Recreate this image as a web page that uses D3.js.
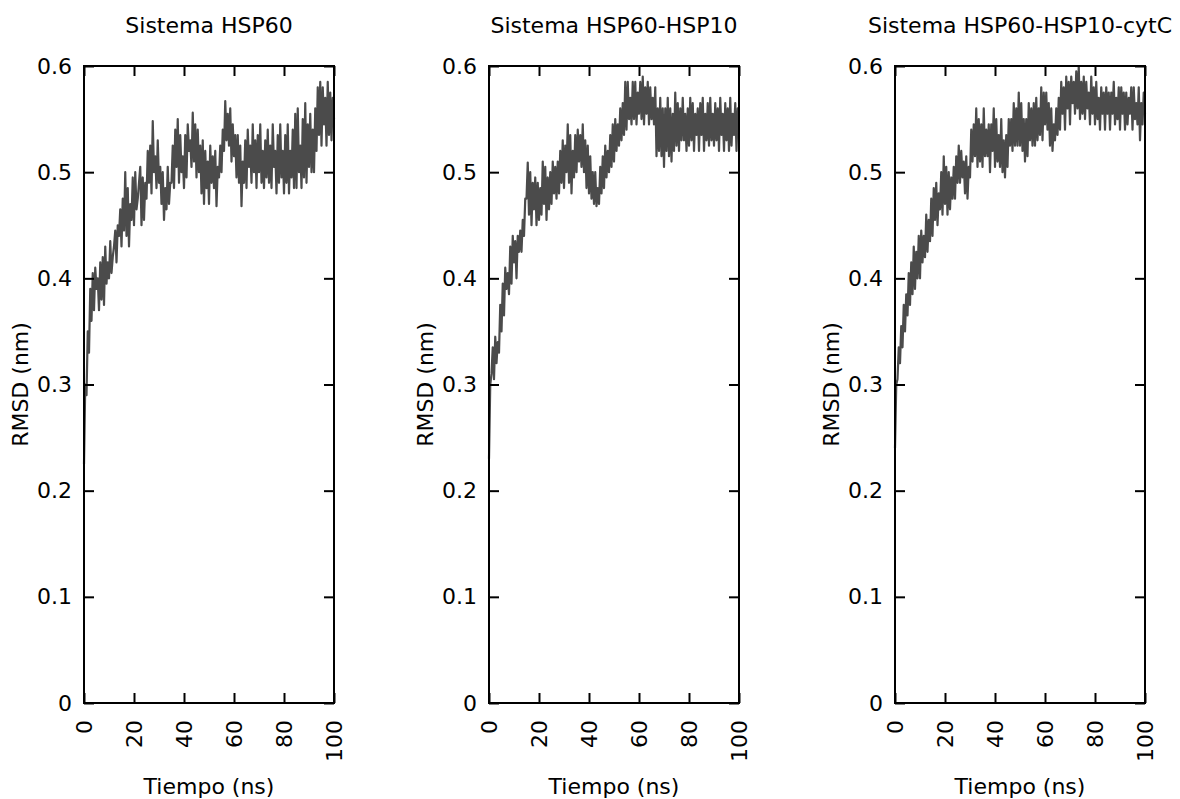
<!DOCTYPE html>
<html>
<head>
<meta charset="utf-8">
<script src="https://cdn.jsdelivr.net/npm/d3@7"></script>
<style>
body { margin: 0; background: #fff; }
svg text { font-family: 'DejaVu Sans', sans-serif; font-size: 22px; fill: #000; }
</style>
</head>
<body>
<svg id="chart" width="1180" height="799"></svg>
<script>
// panel titles
const titles = ['Sistema HSP60', 'Sistema HSP60-HSP10', 'Sistema HSP60-HSP10-cytC'];

// RMSD (nm), one frame every 0.5 ns from 0 to 100 ns
const rmsdHsp60 = [
	0.225, 0.30, 0.29, 0.35, 0.33, 0.39, 0.36, 0.405, 0.37, 0.41,
	0.39, 0.40, 0.37, 0.415, 0.38, 0.42, 0.375, 0.43, 0.395, 0.415,
	0.40, 0.435, 0.405, 0.42, 0.43, 0.445, 0.415, 0.45, 0.44, 0.465,
	0.43, 0.475, 0.445, 0.50, 0.44, 0.485, 0.43, 0.47, 0.455, 0.495,
	0.45, 0.50, 0.465, 0.475, 0.49, 0.505, 0.45, 0.495, 0.455, 0.49,
	0.475, 0.52, 0.49, 0.525, 0.48, 0.548, 0.50, 0.515, 0.485, 0.53,
	0.49, 0.505, 0.47, 0.50, 0.455, 0.485, 0.465, 0.505, 0.47, 0.49,
	0.49, 0.525, 0.485, 0.54, 0.505, 0.55, 0.49, 0.535, 0.50, 0.515,
	0.485, 0.535, 0.495, 0.545, 0.52, 0.53, 0.505, 0.556, 0.51, 0.545,
	0.495, 0.54, 0.50, 0.525, 0.48, 0.53, 0.47, 0.52, 0.485, 0.51,
	0.47, 0.525, 0.49, 0.515, 0.485, 0.52, 0.468, 0.505, 0.495, 0.525,
	0.50, 0.54, 0.52, 0.567, 0.53, 0.555, 0.525, 0.56, 0.51, 0.545,
	0.515, 0.535, 0.495, 0.535, 0.49, 0.525, 0.468, 0.51, 0.49, 0.53,
	0.485, 0.54, 0.505, 0.525, 0.49, 0.545, 0.50, 0.53, 0.485, 0.535,
	0.50, 0.545, 0.49, 0.52, 0.485, 0.53, 0.495, 0.54, 0.49, 0.525,
	0.485, 0.545, 0.505, 0.52, 0.48, 0.535, 0.49, 0.545, 0.495, 0.52,
	0.48, 0.535, 0.49, 0.545, 0.48, 0.52, 0.495, 0.54, 0.485, 0.555,
	0.485, 0.56, 0.50, 0.525, 0.485, 0.55, 0.495, 0.565, 0.49, 0.545,
	0.505, 0.555, 0.50, 0.54, 0.50, 0.56, 0.52, 0.58, 0.535, 0.585,
	0.525, 0.58, 0.545, 0.57, 0.525, 0.585, 0.535, 0.575, 0.53, 0.57,
	0.55
];

const rmsdHsp60Hsp10 = [
	0.23, 0.30, 0.31, 0.335, 0.305, 0.345, 0.32, 0.34, 0.33, 0.375,
	0.35, 0.395, 0.365, 0.41, 0.39, 0.405, 0.385, 0.43, 0.395, 0.44,
	0.415, 0.435, 0.40, 0.44, 0.425, 0.445, 0.425, 0.455, 0.44, 0.475,
	0.475, 0.509, 0.46, 0.50, 0.45, 0.49, 0.465, 0.495, 0.45, 0.49,
	0.455, 0.485, 0.46, 0.51, 0.47, 0.505, 0.455, 0.495, 0.465, 0.50,
	0.47, 0.51, 0.48, 0.505, 0.475, 0.51, 0.48, 0.52, 0.49, 0.53,
	0.485, 0.525, 0.50, 0.545, 0.49, 0.535, 0.48, 0.52, 0.495, 0.535,
	0.50, 0.54, 0.51, 0.535, 0.505, 0.545, 0.50, 0.53, 0.485, 0.525,
	0.48, 0.515, 0.475, 0.50, 0.47, 0.50, 0.468, 0.485, 0.47, 0.505,
	0.48, 0.515, 0.485, 0.525, 0.495, 0.52, 0.50, 0.535, 0.505, 0.545,
	0.51, 0.55, 0.52, 0.545, 0.525, 0.56, 0.53, 0.565, 0.535, 0.585,
	0.54, 0.585, 0.55, 0.57, 0.545, 0.585, 0.55, 0.585, 0.545, 0.575,
	0.555, 0.585, 0.55, 0.59, 0.545, 0.58, 0.555, 0.585, 0.545, 0.58,
	0.55, 0.57, 0.545, 0.58, 0.515, 0.56, 0.52, 0.57, 0.515, 0.56,
	0.505, 0.56, 0.52, 0.57, 0.515, 0.56, 0.51, 0.555, 0.52, 0.575,
	0.525, 0.565, 0.52, 0.56, 0.53, 0.57, 0.53, 0.555, 0.52, 0.56,
	0.525, 0.57, 0.53, 0.565, 0.52, 0.555, 0.535, 0.56, 0.52, 0.565,
	0.535, 0.57, 0.52, 0.555, 0.53, 0.565, 0.525, 0.57, 0.53, 0.555,
	0.525, 0.565, 0.53, 0.56, 0.52, 0.57, 0.535, 0.555, 0.52, 0.565,
	0.53, 0.56, 0.52, 0.57, 0.525, 0.555, 0.535, 0.565, 0.52, 0.56,
	0.545
];

const rmsdHsp60Hsp10CytC = [
	0.24, 0.30, 0.305, 0.335, 0.32, 0.355, 0.335, 0.375, 0.35, 0.385,
	0.365, 0.405, 0.375, 0.415, 0.385, 0.43, 0.39, 0.425, 0.40, 0.44,
	0.40, 0.445, 0.415, 0.44, 0.42, 0.46, 0.425, 0.455, 0.435, 0.475,
	0.44, 0.485, 0.455, 0.49, 0.45, 0.48, 0.465, 0.50, 0.46, 0.515,
	0.47, 0.505, 0.46, 0.50, 0.465, 0.495, 0.475, 0.505, 0.475, 0.515,
	0.49, 0.525, 0.49, 0.52, 0.495, 0.51, 0.48, 0.515, 0.475, 0.505,
	0.495, 0.54, 0.51, 0.545, 0.515, 0.56, 0.505, 0.55, 0.51, 0.545,
	0.505, 0.56, 0.515, 0.54, 0.515, 0.545, 0.50, 0.545, 0.52, 0.56,
	0.505, 0.55, 0.51, 0.535, 0.505, 0.55, 0.50, 0.53, 0.495, 0.535,
	0.505, 0.55, 0.525, 0.55, 0.52, 0.565, 0.525, 0.56, 0.525, 0.575,
	0.525, 0.565, 0.52, 0.55, 0.51, 0.55, 0.515, 0.565, 0.53, 0.56,
	0.525, 0.565, 0.525, 0.57, 0.53, 0.56, 0.535, 0.58, 0.53, 0.575,
	0.545, 0.575, 0.54, 0.565, 0.525, 0.56, 0.52, 0.545, 0.53, 0.56,
	0.535, 0.57, 0.54, 0.585, 0.555, 0.58, 0.54, 0.59, 0.56, 0.585,
	0.545, 0.59, 0.565, 0.585, 0.555, 0.595, 0.56, 0.60, 0.55, 0.585,
	0.555, 0.59, 0.55, 0.585, 0.56, 0.575, 0.545, 0.59, 0.555, 0.58,
	0.545, 0.585, 0.55, 0.57, 0.54, 0.58, 0.555, 0.575, 0.54, 0.58,
	0.555, 0.575, 0.54, 0.575, 0.555, 0.585, 0.545, 0.57, 0.55, 0.58,
	0.54, 0.58, 0.555, 0.575, 0.54, 0.575, 0.545, 0.57, 0.555, 0.58,
	0.54, 0.58, 0.55, 0.565, 0.545, 0.58, 0.53, 0.565, 0.545, 0.575,
	0.555
];

const timeStep = 0.5; // ns between frames
const xTicks = [0, 20, 40, 60, 80, 100];
const yTicks = [0, 0.1, 0.2, 0.3, 0.4, 0.5, 0.6];

const panels = [
	{ title: titles[0], values: rmsdHsp60, left: 84 },
	{ title: titles[1], values: rmsdHsp60Hsp10, left: 489 },
	{ title: titles[2], values: rmsdHsp60Hsp10CytC, left: 895 }
];

const plotWidth = 250;
const plotTop = 66;
const plotBottom = 703;

const svg = d3.select('#chart');

function drawPanel(panel) {
	const x = d3.scaleLinear().domain([0, 100]).range([panel.left, panel.left + plotWidth]);
	const y = d3.scaleLinear().domain([0, 0.6]).range([plotBottom, plotTop]);
	const g = svg.append('g');

	// trace
	const line = d3.line()
	.x( (d, i)=>x(i * timeStep) )
	.y( (d)=>y(d) );

	g.append('path')
	.datum(panel.values)
	.attr('d', line)
	.attr('fill', 'none')
	.attr('stroke', '#4b4b4b')
	.attr('stroke-width', 2.2)
	.attr('stroke-linejoin', 'round');

	// axes, ticks pointing inwards on all four sides
	const bottomAxis = g.append('g')
	.attr('transform', `translate(0,${plotBottom})`)
	.call(d3.axisBottom(x).tickValues(xTicks).tickSize(-10).tickFormat(d3.format('d')));

	bottomAxis.selectAll('text')
	.attr('transform', 'rotate(-90)')
	.attr('x', -17)
	.attr('y', 0)
	.attr('dy', '0.35em')
	.attr('text-anchor', 'end');

	g.append('g')
	.attr('transform', `translate(0,${plotTop})`)
	.call(d3.axisTop(x).tickValues(xTicks).tickSize(-10).tickFormat(''));

	g.append('g')
	.attr('transform', `translate(${panel.left},0)`)
	.call(d3.axisLeft(y).tickValues(yTicks).tickSize(-10).tickPadding(12)
		.tickFormat( (d)=>d === 0 ? '0' : d3.format('.1f')(d) ));

	g.append('g')
	.attr('transform', `translate(${panel.left + plotWidth},0)`)
	.call(d3.axisRight(y).tickValues(yTicks).tickSize(-10).tickFormat(''));

	g.selectAll('.domain').remove();
	g.selectAll('.tick line').attr('stroke', '#000').attr('stroke-width', 2);

	g.append('rect')
	.attr('x', panel.left)
	.attr('y', plotTop)
	.attr('width', plotWidth)
	.attr('height', plotBottom - plotTop)
	.attr('fill', 'none')
	.attr('stroke', '#000')
	.attr('stroke-width', 2);

	const centerX = panel.left + plotWidth / 2;

	g.append('text')
	.attr('x', centerX)
	.attr('y', 33)
	.attr('text-anchor', 'middle')
	.text(panel.title);

	g.append('text')
	.attr('x', centerX)
	.attr('y', 794)
	.attr('text-anchor', 'middle')
	.text('Tiempo (ns)');

	g.append('text')
	.attr('transform', `translate(${panel.left - 56},${(plotTop + plotBottom) / 2}) rotate(-90)`)
	.attr('text-anchor', 'middle')
	.text('RMSD (nm)');
}

panels.forEach(drawPanel);
</script>
</body>
</html>
